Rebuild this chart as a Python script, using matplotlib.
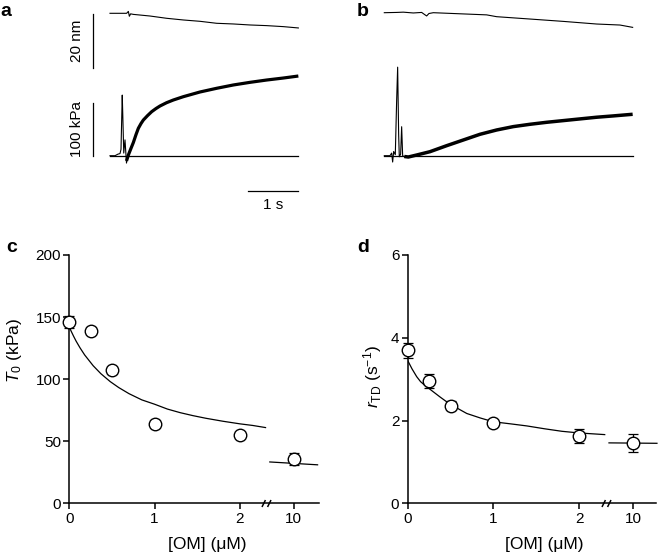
import numpy as np
import matplotlib
matplotlib.use('Agg')
import matplotlib.pyplot as plt
from matplotlib.path import Path

plt.rcParams['font.family'] = ['Liberation Sans', 'DejaVu Sans']
plt.rcParams['mathtext.fontset'] = 'custom'
plt.rcParams['mathtext.rm'] = 'Liberation Sans'
plt.rcParams['mathtext.it'] = 'Liberation Sans:italic'

W, H = 658, 553

# ---- panel a traces (time in s, length in nm, force in kPa)
a_len_t = [0, 0.333, 0.367, 0.387, 0.413, 0.467, 0.8, 1.133, 1.467, 1.8, 2.133, 2.467, 2.8, 3.133, 3.467, 3.767]
a_len = [0, 0, 0.7, -1.1, -0.2, -0.4, -1.0, -1.84, -2.46, -2.95, -3.68, -3.93, -4.3, -4.54, -4.91, -5.4]
a_spk_t = [0, 0.1, 0.16, 0.2, 0.22, 0.245, 0.255, 0.275, 0.3, 0.33, 0.345]
a_spk_f = [0, 0, 3, 4, 12, 115, 80, 5, 30, -14, -3]
a_frc_t = [0.33, 0.37, 0.42, 0.467, 0.52, 0.567, 0.62, 0.667, 0.75, 0.833, 0.92, 1.0, 1.13, 1.267, 1.467, 1.8, 2.133, 2.467, 2.8, 3.133, 3.467, 3.767]
a_frc = [-10, 2, 14, 25, 40, 52, 61, 67.7, 76, 83.5, 89.5, 94.3, 100.5, 105.7, 112, 120.9, 127.9, 134.2, 139.2, 143.6, 147.4, 151.2]
a_end = 3.753

# ---- panel b traces
b_len_t = [0, 0.247, 0.38, 0.58, 0.747, 0.8, 0.847, 0.893, 0.98, 1.38, 2.047, 2.247, 2.913, 3.58, 4.247, 4.713, 4.967]
b_len = [0, 0.1, 0.2, -0.1, 0.1, -0.6, -1.2, -0.3, 0, -0.3, -0.8, -1.47, -2.33, -3.2, -4.17, -4.54, -5.4]
b_spk_t = [0, 0.113, 0.147, 0.167, 0.187, 0.22, 0.247, 0.267, 0.287, 0.3, 0.327, 0.347, 0.367, 0.413]
b_spk_f = [0, 0, 5, -12, 8, 2, 105, 168, 40, -2, 3, 55, 0, -3]
b_frc_t = [0.4, 0.48, 0.647, 0.913, 1.247, 1.58, 1.913, 2.247, 2.58, 2.913, 3.247, 3.58, 3.913, 4.247, 4.58, 4.967]
b_frc = [-1.5, -2.5, 1.3, 7.6, 19, 29.8, 40.6, 48.8, 55.2, 59.6, 63.4, 66.6, 69.8, 73, 75.5, 78.6]
b_end = 4.967

# ---- panels c, d
om = [0, 0.25, 0.5, 1, 2, 10]
t0 = [146, 139, 107, 64, 55, 35.5]
t0_err = [4.6, 3, 2.5, 3, 2.8, 4.7]
rtd = [3.70, 2.95, 2.36, 1.95, 1.63, 1.46]
rtd_err = [0.18, 0.17, 0.1, 0.04, 0.17, 0.22]

fit_om = [0, 0.02, 0.05, 0.08, 0.125, 0.18, 0.28, 0.37, 0.48, 0.58, 0.7, 0.85, 1.0, 1.15, 1.3, 1.45, 1.6, 1.8, 2.0, 2.15, 2.3]
fit_t0 = [142, 138.9, 134.6, 130.6, 125.3, 119.5, 110.8, 104.4, 98, 93.2, 88.3, 83.3, 79.8, 75.9, 73, 70.6, 68.5, 66.1, 64, 62.7, 61]
fit_om_d = [0, 0.02, 0.05, 0.105, 0.15, 0.2, 0.27, 0.377, 0.49, 0.69, 0.85, 1.0, 1.2, 1.39, 1.6, 1.8, 2.0, 2.3]
fit_rtd = [3.45, 3.37, 3.25, 3.06, 2.94, 2.85, 2.74, 2.57, 2.40, 2.17, 2.06, 1.97, 1.92, 1.87, 1.80, 1.74, 1.70, 1.66]
hi_om = [5, 15]
hi_t0 = [33.3, 31.0]
hi_rtd = [1.46, 1.45]

fig = plt.figure(figsize=(W / 100, H / 100), dpi=100)

PX_PER_S = 50.0


def trace_axes(box, t0_px, base_px, px_per_unit):
    x0, y0, x1, y1 = box
    ax = fig.add_axes([x0 / W, 1 - y1 / H, (x1 - x0) / W, (y1 - y0) / H])
    ax.set_xlim((x0 - t0_px) / PX_PER_S, (x1 - t0_px) / PX_PER_S)
    ax.set_ylim((base_px - y1) / px_per_unit, (base_px - y0) / px_per_unit)
    ax.axis('off')
    return ax


# panel a
la = trace_axes((55, 0, 315, 72), 110, 13.3, 2.715)
la.plot(a_len_t, a_len, 'k-', lw=0.8)
la.plot([-0.346, -0.346], [-0.3, -20.3], 'k-', lw=0.9)
la.text(-0.66, -10, '20 nm', rotation=90, ha='center', va='center', fontsize=11)

fa = trace_axes((55, 60, 315, 215), 110, 155.7, 0.527)
fa.plot([0, a_end], [0, 0], 'k-', lw=0.9)
fa.plot(a_spk_t, a_spk_f, 'k-', lw=0.8)
fa.plot(a_frc_t, a_frc, 'k-', lw=2.3, solid_capstyle='butt')
fa.plot([-0.346, -0.346], [0, 100], 'k-', lw=0.9)
fa.text(-0.66, 50, '100 kPa', rotation=90, ha='center', va='center', fontsize=11)
fa.plot([a_end - 1, a_end], [-67, -67], 'k-', lw=0.9)
fa.text(a_end - 0.5, -93, '1 s', ha='center', va='center', fontsize=11)

# panel b
lb = trace_axes((370, 0, 650, 72), 384.3, 12.7, 2.715)
lb.plot(b_len_t, b_len, 'k-', lw=0.8)
fb = trace_axes((370, 60, 650, 215), 384.3, 155.7, 0.527)
fb.plot([0, b_end], [0, 0], 'k-', lw=0.9)
fb.plot(b_spk_t, b_spk_f, 'k-', lw=0.8)
fb.plot(b_frc_t, b_frc, 'k-', lw=2.5, solid_capstyle='butt')

# broken concentration axis
brk_c = [-5, 2.3, 5, 10, 30]
brk_p = [-5, 2.3, 2.35, 2.63, 3.75]


def fwd(c):
    return np.interp(c, brk_c, brk_p)


def inv(p):
    return np.interp(p, brk_p, brk_c)


brk_mark = Path([(-1.3, -1), (-0.3, 1), (0.3, -1), (1.3, 1)],
                [Path.MOVETO, Path.LINETO, Path.MOVETO, Path.LINETO])


def setup(ax, xmax, ylim, yticks, ylabel, ylab_x, ylab_y):
    ax.set_xscale('function', functions=(fwd, inv))
    ax.set_xlim(0, xmax)
    ax.set_ylim(*ylim)
    ax.set_xticks([0, 1, 2, 10])
    ax.set_xticklabels(['0', '1', '2', '10'])
    ax.xaxis.set_minor_locator(matplotlib.ticker.NullLocator())
    ax.set_yticks(yticks)
    for s in ['top', 'right']:
        ax.spines[s].set_visible(False)
    for s in ['left', 'bottom']:
        ax.spines[s].set_linewidth(1.1)
    ax.tick_params(direction='out', length=4, width=1.1, labelsize=11, pad=2)
    ax.set_xlabel('[OM] (\u03bcM)', fontsize=12.5)
    ax.xaxis.set_label_coords(0.55, -0.135)
    ax.set_ylabel(ylabel, fontsize=12.5)
    ax.yaxis.set_label_coords(ylab_x, ylab_y)
    ax.plot([2.85], [0], marker=brk_mark, ms=6.5, color='k', mew=1.1,
            transform=ax.get_xaxis_transform(), clip_on=False, zorder=5)


ax_c = fig.add_axes([69.3 / W, 1 - 503.3 / H, 250 / W, 248.3 / H])
setup(ax_c, 15.36, (0, 200), [0, 50, 100, 150, 200], r'$T_0$ (kPa)', -0.18, 0.617)
ax_c.plot(fit_om, fit_t0, 'k-', lw=0.9)
ax_c.plot(hi_om, hi_t0, 'k-', lw=0.9, clip_on=False)
ax_c.errorbar(om, t0, yerr=t0_err, fmt='none', ecolor='k', elinewidth=0.9,
              capsize=3.5, capthick=0.9, clip_on=False, zorder=3)
ax_c.plot(om, t0, 'o', ms=9, mfc='white', mec='k', mew=1.0, clip_on=False, zorder=4)

ax_d = fig.add_axes([407.7 / W, 1 - 503.3 / H, 248.3 / W, 248.3 / H])
setup(ax_d, 14.8, (0, 6), [0, 2, 4, 6], r'$r_{\mathrm{TD}}$ (s$^{-1}$)', -0.095, 0.51)
ax_d.plot(fit_om_d, fit_rtd, 'k-', lw=0.9)
ax_d.plot(hi_om, hi_rtd, 'k-', lw=0.9, clip_on=False)
ax_d.errorbar(om, rtd, yerr=rtd_err, fmt='none', ecolor='k', elinewidth=0.9,
              capsize=3.5, capthick=0.9, clip_on=False, zorder=3)
ax_d.plot(om, rtd, 'o', ms=9, mfc='white', mec='k', mew=1.0, clip_on=False, zorder=4)

# panel letters
for lab, (x, y) in zip('abcd', [(6, 11), (363, 11), (12, 248), (363, 248)]):
    fig.text(x / W, 1 - y / H, lab, fontsize=14, fontweight='bold', ha='center', va='center')

fig.savefig('out.png', dpi=100)
